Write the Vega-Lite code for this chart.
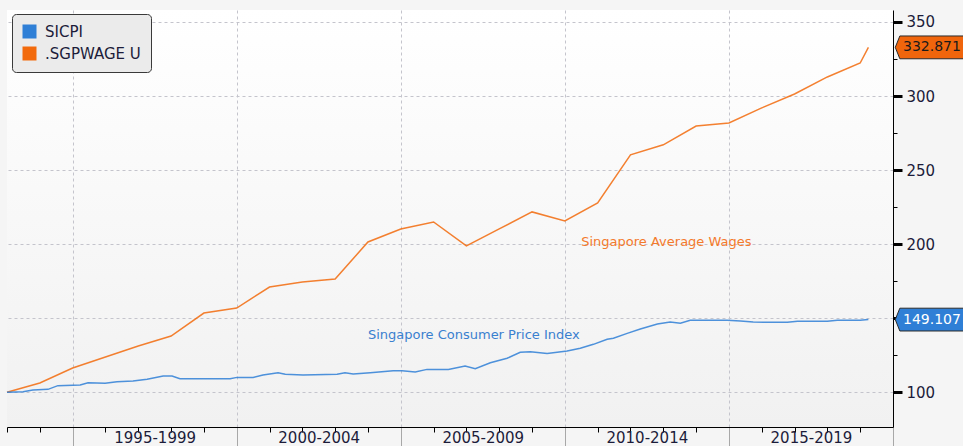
{
  "$schema": "https://vega.github.io/schema/vega-lite/v6.json",
  "width": 886,
  "height": 417,
  "autosize": {"type": "none"},
  "padding": {"left": 7, "top": 10, "right": 70, "bottom": 19},
  "background": "#f5f5f5",
  "config": {
    "font": "DejaVu Sans",
    "view": {
      "stroke": null,
      "fill": {"gradient": "linear", "x1": 0, "y1": 0, "x2": 0, "y2": 1, "stops": [{"offset": 0, "color": "#ffffff"}, {"offset": 1, "color": "#f1f1f1"}]}
    }
  },
  "datasets": {
    "series": [
      {"series": ".SGPWAGE U", "year": 1993, "value": 100},
      {"series": ".SGPWAGE U", "year": 1994, "value": 106.3},
      {"series": ".SGPWAGE U", "year": 1995, "value": 116.4},
      {"series": ".SGPWAGE U", "year": 1996, "value": 123.8},
      {"series": ".SGPWAGE U", "year": 1997, "value": 131.3},
      {"series": ".SGPWAGE U", "year": 1998, "value": 138.0},
      {"series": ".SGPWAGE U", "year": 1999, "value": 153.5},
      {"series": ".SGPWAGE U", "year": 2000, "value": 156.9},
      {"series": ".SGPWAGE U", "year": 2001, "value": 171.1},
      {"series": ".SGPWAGE U", "year": 2002, "value": 174.5},
      {"series": ".SGPWAGE U", "year": 2003, "value": 176.5},
      {"series": ".SGPWAGE U", "year": 2004, "value": 201.5},
      {"series": ".SGPWAGE U", "year": 2005, "value": 210.3},
      {"series": ".SGPWAGE U", "year": 2006, "value": 215.0},
      {"series": ".SGPWAGE U", "year": 2007, "value": 198.8},
      {"series": ".SGPWAGE U", "year": 2008, "value": 210.3},
      {"series": ".SGPWAGE U", "year": 2009, "value": 221.8},
      {"series": ".SGPWAGE U", "year": 2010, "value": 215.7},
      {"series": ".SGPWAGE U", "year": 2011, "value": 227.9},
      {"series": ".SGPWAGE U", "year": 2012, "value": 260.3},
      {"series": ".SGPWAGE U", "year": 2013, "value": 267.1},
      {"series": ".SGPWAGE U", "year": 2014, "value": 279.8},
      {"series": ".SGPWAGE U", "year": 2015, "value": 281.8},
      {"series": ".SGPWAGE U", "year": 2016, "value": 292.0},
      {"series": ".SGPWAGE U", "year": 2017, "value": 301.4},
      {"series": ".SGPWAGE U", "year": 2018, "value": 312.9},
      {"series": ".SGPWAGE U", "year": 2019, "value": 322.3},
      {"series": ".SGPWAGE U", "year": 2019.25, "value": 332.871},
      {"series": "SICPI", "year": 1993.0, "value": 100.0},
      {"series": "SICPI", "year": 1993.49, "value": 100.4},
      {"series": "SICPI", "year": 1993.79, "value": 101.6},
      {"series": "SICPI", "year": 1994.25, "value": 102.0},
      {"series": "SICPI", "year": 1994.55, "value": 104.5},
      {"series": "SICPI", "year": 1995.23, "value": 104.9},
      {"series": "SICPI", "year": 1995.47, "value": 106.5},
      {"series": "SICPI", "year": 1995.99, "value": 106.1},
      {"series": "SICPI", "year": 1996.35, "value": 107.2},
      {"series": "SICPI", "year": 1996.84, "value": 107.6},
      {"series": "SICPI", "year": 1997.27, "value": 108.8},
      {"series": "SICPI", "year": 1997.76, "value": 111.0},
      {"series": "SICPI", "year": 1998.03, "value": 111.0},
      {"series": "SICPI", "year": 1998.27, "value": 109.2},
      {"series": "SICPI", "year": 1999.8, "value": 109.2},
      {"series": "SICPI", "year": 2000.01, "value": 110.1},
      {"series": "SICPI", "year": 2000.5, "value": 110.1},
      {"series": "SICPI", "year": 2000.8, "value": 111.7},
      {"series": "SICPI", "year": 2001.26, "value": 113.2},
      {"series": "SICPI", "year": 2001.48, "value": 112.2},
      {"series": "SICPI", "year": 2002.02, "value": 111.7},
      {"series": "SICPI", "year": 2003.06, "value": 112.2},
      {"series": "SICPI", "year": 2003.3, "value": 113.2},
      {"series": "SICPI", "year": 2003.55, "value": 112.4},
      {"series": "SICPI", "year": 2004.07, "value": 113.2},
      {"series": "SICPI", "year": 2004.77, "value": 114.6},
      {"series": "SICPI", "year": 2005.04, "value": 114.6},
      {"series": "SICPI", "year": 2005.44, "value": 113.7},
      {"series": "SICPI", "year": 2005.8, "value": 115.5},
      {"series": "SICPI", "year": 2006.45, "value": 115.5},
      {"series": "SICPI", "year": 2006.96, "value": 117.8},
      {"series": "SICPI", "year": 2007.27, "value": 115.9},
      {"series": "SICPI", "year": 2007.73, "value": 120.0},
      {"series": "SICPI", "year": 2008.24, "value": 123.0},
      {"series": "SICPI", "year": 2008.64, "value": 127.0},
      {"series": "SICPI", "year": 2008.95, "value": 127.4},
      {"series": "SICPI", "year": 2009.46, "value": 126.3},
      {"series": "SICPI", "year": 2010.07, "value": 127.9},
      {"series": "SICPI", "year": 2010.47, "value": 129.7},
      {"series": "SICPI", "year": 2010.87, "value": 132.4},
      {"series": "SICPI", "year": 2011.29, "value": 135.8},
      {"series": "SICPI", "year": 2011.48, "value": 136.5},
      {"series": "SICPI", "year": 2011.9, "value": 139.8},
      {"series": "SICPI", "year": 2012.3, "value": 142.7},
      {"series": "SICPI", "year": 2012.82, "value": 146.1},
      {"series": "SICPI", "year": 2013.21, "value": 147.5},
      {"series": "SICPI", "year": 2013.52, "value": 146.6},
      {"series": "SICPI", "year": 2013.82, "value": 148.6},
      {"series": "SICPI", "year": 2014.95, "value": 148.6},
      {"series": "SICPI", "year": 2015.35, "value": 148.1},
      {"series": "SICPI", "year": 2015.74, "value": 147.4},
      {"series": "SICPI", "year": 2016.78, "value": 147.3},
      {"series": "SICPI", "year": 2017.09, "value": 148.0},
      {"series": "SICPI", "year": 2018.0, "value": 148.0},
      {"series": "SICPI", "year": 2018.3, "value": 148.7},
      {"series": "SICPI", "year": 2019.0, "value": 148.7},
      {"series": "SICPI", "year": 2019.25, "value": 149.107}
    ],
    "tags": [
      {"series": "SICPI", "value": 149.107},
      {"series": ".SGPWAGE U", "value": 332.871}
    ],
    "notes": [
      {"series": ".SGPWAGE U", "year": 2010.5, "value": 201.5, "text": "Singapore Average Wages"},
      {"series": "SICPI", "year": 2004.0, "value": 138.7, "text": "Singapore Consumer Price Index"}
    ]
  },
  "layer": [
    {
      "data": {"name": "series"},
      "mark": {"type": "line", "strokeWidth": 1.5, "strokeOpacity": 0.85},
      "encoding": {
        "x": {
          "field": "year", "type": "quantitative",
          "scale": {"domain": [1993, 2020], "nice": false, "zero": false},
          "axis": {
            "title": null,
            "tickCount": 40,
            "values": [1993,1994,1995,1996,1997,1998,1999,2000,2001,2002,2003,2004,2005,2006,2007,2008,2009,2010,2011,2012,2013,2014,2015,2016,2017,2018,2019,2020],
            "domainColor": "#000000", "domainWidth": 1,
            "tickColor": {"condition": {"test": "datum.value % 5 === 0", "value": "#a8a8a8"}, "value": "#000000"},
            "tickSize": {"condition": {"test": "datum.value % 5 === 0", "value": 19}, "value": 5},
            "grid": true, "gridColor": "#c4c4cc", "gridDash": [3, 3],
            "gridOpacity": {"condition": {"test": "datum.value % 5 === 0 && datum.value > 1993 && datum.value < 2020", "value": 1}, "value": 0},
            "labelExpr": "datum.value % 5 === 0 && datum.value < 2020 ? datum.value + '-' + (datum.value + 4) : ''",
            "labelOffset": 82, "labelPadding": -16,
            "labelFontSize": 15, "labelColor": "#1c1c3a",
            "labelOverlap": false, "labelBound": false, "labelFlush": false
          }
        },
        "y": {
          "field": "value", "type": "quantitative",
          "scale": {"domain": [76.6, 358.1], "nice": false, "zero": false},
          "axis": {
            "orient": "right", "title": null,
            "tickCount": 20,
            "values": [100,125,150,175,200,225,250,275,300,325,350],
            "domainColor": "#000000",
            "tickColor": "#000000",
            "tickSize": {"condition": {"test": "datum.value % 50 === 0", "value": 9}, "value": 4},
            "tickWidth": {"condition": {"test": "datum.value % 50 === 0", "value": 3}, "value": 1},
            "labelExpr": "datum.value % 50 === 0 && datum.value !== 150 ? datum.label : ''",
            "labelPadding": 4, "labelFontSize": 15, "labelColor": "#1c1c3a",
            "grid": true, "gridColor": "#c4c4cc", "gridDash": [3, 3],
            "gridOpacity": {"condition": {"test": "datum.value % 50 === 0", "value": 1}, "value": 0},
            "labelOverlap": false, "labelBound": false, "labelFlush": false
          }
        },
        "color": {
          "field": "series", "type": "nominal",
          "scale": {"domain": ["SICPI", ".SGPWAGE U"], "range": ["#2f7fd6", "#f26a0c"]},
          "legend": {
            "orient": "none", "legendX": 5, "legendY": 4, "title": null,
            "fillColor": "#ebebeb", "strokeColor": "#3a3a3a", "cornerRadius": 4, "padding": 10,
            "symbolType": "square", "symbolSize": 196, "symbolStrokeWidth": 0,
            "labelFontSize": 15, "labelColor": "#1c1c3a", "labelOffset": 8, "rowPadding": 6,
            "encode": {"symbols": {"update": {"fill": {"scale": "color", "field": "value"}, "fillOpacity": {"value": 1}, "opacity": {"value": 1}, "strokeWidth": {"value": 0}}}}
          }
        }
      }
    },
    {
      "data": {"name": "notes"},
      "mark": {"type": "text", "align": "left", "baseline": "middle", "fontSize": 13},
      "encoding": {
        "x": {"field": "year", "type": "quantitative"},
        "y": {"field": "value", "type": "quantitative"},
        "text": {"field": "text"},
        "color": {"condition": {"test": "datum.series === 'SICPI'", "value": "#3a80cf"}, "value": "#f47a2c"}
      }
    },
    {
      "data": {"name": "tags"},
      "mark": {"type": "point", "filled": true, "shape": "M0.06,0L0.18,-0.3L2.2,-0.3L2.2,0.3L0.18,0.3Z", "size": 5776, "stroke": "#2a2a2a", "strokeWidth": 1, "opacity": 1},
      "encoding": {
        "x": {"datum": 2020, "type": "quantitative"},
        "y": {"field": "value", "type": "quantitative"},
        "fill": {"condition": {"test": "datum.series === 'SICPI'", "value": "#2f7fd6"}, "value": "#f0650c"}
      }
    },
    {
      "data": {"name": "tags"},
      "mark": {"type": "text", "align": "left", "baseline": "middle", "dx": 10, "fontSize": 14},
      "encoding": {
        "x": {"datum": 2020, "type": "quantitative"},
        "y": {"field": "value", "type": "quantitative"},
        "text": {"field": "value", "type": "quantitative", "format": ".3f"},
        "color": {"condition": {"test": "datum.series === 'SICPI'", "value": "#ffffff"}, "value": "#1a1a1a"}
      }
    }
  ]
}
